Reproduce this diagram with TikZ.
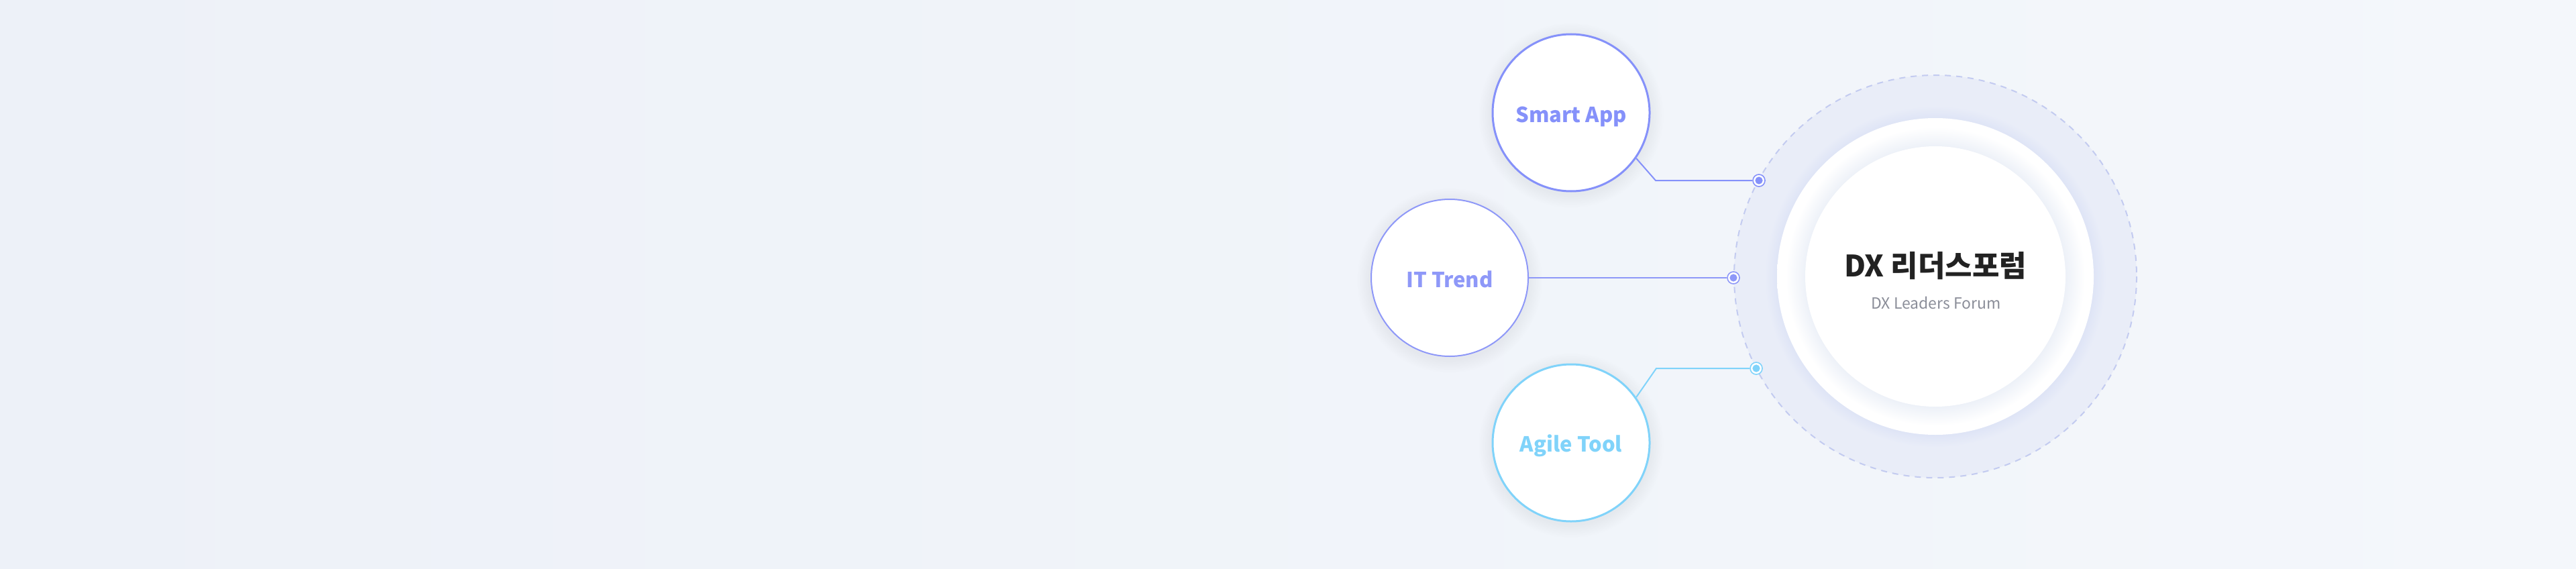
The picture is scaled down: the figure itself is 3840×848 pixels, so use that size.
\documentclass[tikz,border=0pt]{standalone}
\usepackage{fontspec}
\setmainfont{Noto Sans CJK KR}
\definecolor{bgL}{HTML}{EDF1F8}
\definecolor{bgR}{HTML}{F4F7FB}
\definecolor{bandc}{HTML}{E9EDF8}
\definecolor{haloc}{HTML}{DEE4F6}
\definecolor{dashc}{HTML}{C3CBF0}
\definecolor{ringc}{HTML}{EDF1F8}
\definecolor{cA}{HTML}{8591FA}
\definecolor{cB}{HTML}{8E98F8}
\definecolor{cC}{HTML}{80D3FA}
\definecolor{titlec}{HTML}{222222}
\definecolor{subc}{HTML}{8B8E99}
\definecolor{shadowc}{HTML}{C8D0EC}
\pgfdeclareradialshading{outerband}{\pgfpoint{0bp}{0bp}}{color(0bp)=(haloc); color(19.6bp)=(haloc); color(21.2bp)=(bandc); color(25bp)=(bandc); color(50bp)=(bandc)}
\pgfdeclareradialshading{whitering}{\pgfpoint{0bp}{0bp}}{color(0bp)=(ringc); color(20.55bp)=(ringc); color(23.6bp)=(white); color(25bp)=(white); color(50bp)=(white)}
\tikzset{
  bubble/.style={circle, minimum size=234pt, inner sep=0pt, fill=white, line width=3pt},
  bubbletext/.style={font=\fontsize{31}{36}\selectfont\bfseries, anchor=base},
  link/.style={line width=2pt},
  dotnode/.style={circle, minimum size=18pt, inner sep=0pt, fill=white, draw=#1, line width=1.6pt,
     path picture={\fill[#1] (path picture bounding box.center) circle (5.6pt);}},
}
\begin{document}
\begin{tikzpicture}[x=1pt,y=-1pt]
\useasboundingbox (0,0) rectangle (3840,848);
\shade[left color=bgL, right color=bgR] (0,0) rectangle (3840,848);
% centre hub
\coordinate (hub) at (2885,412);
\shade[shading=outerband] (hub) circle (300);
\draw[dashc, line width=2pt, dash pattern=on 9pt off 8pt] (hub) circle (300);
\shade[shading=whitering] (hub) circle (236);
\node[circle, fill=white, minimum size=388pt, inner sep=0pt] (core) at (hub) {};
\node[anchor=base, text=titlec, font=\fontsize{44}{50}\selectfont\bfseries] (title) at (2885,412) {DX 리더스포럼};
\node[anchor=base, text=subc, font=\fontsize{23}{28}\selectfont] (sub) at (2886,460) {DX Leaders Forum};
% bubble positions and soft shadows
\coordinate (pA) at (2342,168);
\coordinate (pB) at (2161,414);
\coordinate (pC) at (2342,660);
\foreach \p in {pA,pB,pC}{
  \foreach \k in {1,...,12}{
    \fill[shadowc, opacity=0.022] ([yshift=-4pt]\p) circle ({117+\k*1.7});
  }
}
% bubbles
\node[bubble, draw=cA] (smart) at (pA) {};
\node[bubble, draw=cB, line width=2pt] (trend) at (pB) {};
\node[bubble, draw=cC] (agile) at (pC) {};
\node[bubbletext, text=cA] (smartT) at (2342,182) {Smart App};
\node[bubbletext, text=cB] (trendT) at (2161,428) {IT Trend};
\node[bubbletext, text=cC] (agileT) at (2342,673) {Agile Tool};
% dots on the dashed ring
\node[dotnode=cA] (dA) at (2622,269) {};
\node[dotnode=cB] (dB) at (2584,414) {};
\node[dotnode=cC] (dC) at (2618,549) {};
% connectors
\coordinate (kA) at (2468,269);
\coordinate (kC) at (2469,549);
\draw[link, cA] (smart.-35) -- (kA) -- (dA);
\draw[link, cB, line width=1.6pt] (trend.east) -- (dB);
\draw[link, cC] (agile.35) -- (kC) -- (dC);
\end{tikzpicture}
\end{document}
